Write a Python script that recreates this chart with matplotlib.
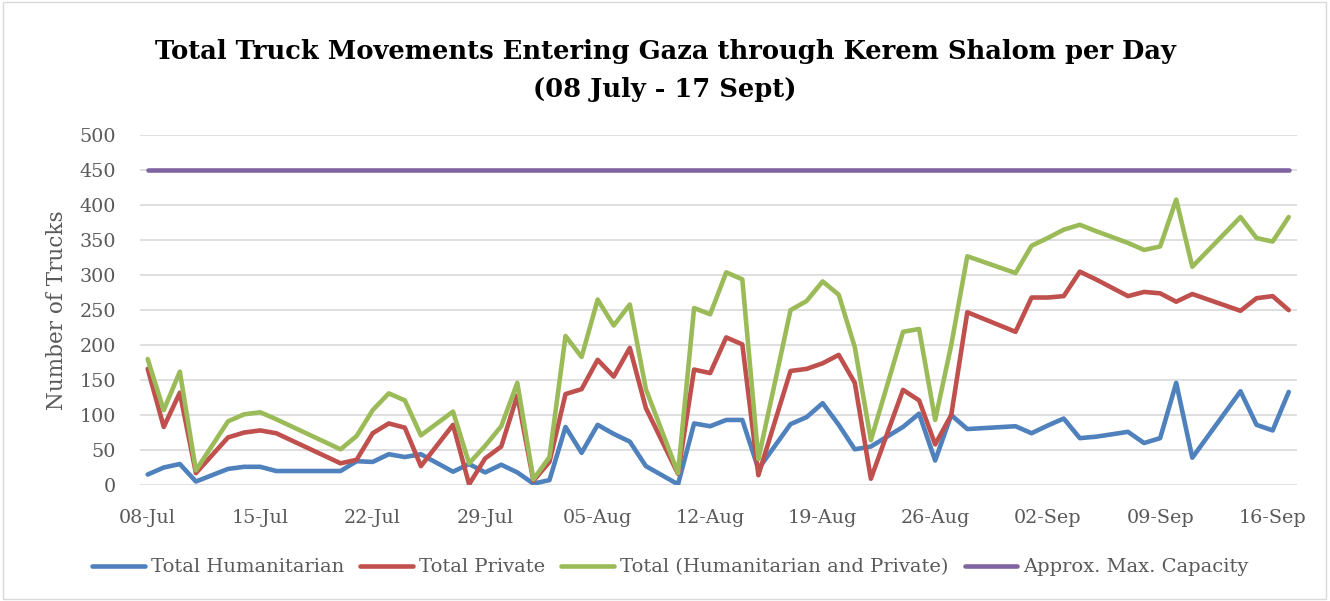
import pandas as pd
import matplotlib
matplotlib.use("Agg")
import matplotlib.pyplot as plt
import matplotlib.dates as mdates
from matplotlib.patches import Rectangle

dates = ["2024-07-08", "2024-07-09", "2024-07-10", "2024-07-11", "2024-07-13", "2024-07-14",
         "2024-07-15", "2024-07-16", "2024-07-20", "2024-07-21", "2024-07-22", "2024-07-23",
         "2024-07-24", "2024-07-25", "2024-07-27", "2024-07-28", "2024-07-29", "2024-07-30",
         "2024-07-31", "2024-08-01", "2024-08-02", "2024-08-03", "2024-08-04", "2024-08-05",
         "2024-08-06", "2024-08-07", "2024-08-08", "2024-08-10", "2024-08-11", "2024-08-12",
         "2024-08-13", "2024-08-14", "2024-08-15", "2024-08-17", "2024-08-18", "2024-08-19",
         "2024-08-20", "2024-08-21", "2024-08-22", "2024-08-24", "2024-08-25", "2024-08-26",
         "2024-08-27", "2024-08-28", "2024-08-31", "2024-09-01", "2024-09-02", "2024-09-03",
         "2024-09-04", "2024-09-05", "2024-09-07", "2024-09-08", "2024-09-09", "2024-09-10",
         "2024-09-11", "2024-09-14", "2024-09-15", "2024-09-16", "2024-09-17"]

humanitarian = [15, 25, 30, 5, 23, 26, 26, 20, 20, 34, 33, 44, 40, 44, 19, 30, 18, 29, 18, 2,
                7, 83, 46, 86, 73, 62, 27, 1, 88, 84, 93, 93, 23, 87, 97, 117, 86, 51, 55,
                83, 102, 35, 100, 80, 84, 74, 85, 95, 67, 69, 76, 60, 67, 146, 39, 134, 86,
                78, 133]

private = [166, 83, 132, 17, 68, 75, 78, 74, 31, 36, 74, 88, 82, 27, 86, 1, 38, 55, 128, 6,
           33, 130, 137, 179, 155, 196, 110, 16, 165, 160, 211, 201, 14, 163, 166, 174, 186,
           146, 9, 136, 121, 58, 100, 247, 219, 268, 268, 270, 305, 294, 270, 276, 274, 262,
           273, 249, 267, 270, 250]

total = [180, 107, 162, 21, 91, 101, 104, 94, 51, 70, 107, 131, 121, 71, 105, 31, 56, 84, 146,
         8, 40, 213, 183, 265, 228, 258, 137, 17, 253, 244, 304, 294, 37, 250, 263, 291, 272,
         197, 64, 219, 223, 93, 200, 327, 303, 342, 353, 365, 372, 363, 346, 336, 341, 408,
         312, 383, 353, 348, 383]

capacity = [450] * len(dates)

labels = ["Total Humanitarian", "Total Private",
          "Total (Humanitarian and Private)", "Approx. Max. Capacity"]
colors = ["#4f81bd", "#c0504d", "#9bbb59", "#8064a2"]

x = pd.to_datetime(dates)
serif = "DejaVu Serif"
grey = "#595959"

fig = plt.figure(figsize=(13.3, 6.01), dpi=100)
ax = fig.add_axes([0.105, 0.193, 0.870, 0.582])

for y, lab, c in zip([humanitarian, private, total, capacity], labels, colors):
    ax.plot(x, y, color=c, lw=3.3, label=lab, solid_capstyle="round", solid_joinstyle="round")

ax.set_ylim(0, 500)
ax.set_yticks(range(0, 501, 50))
ax.set_xlim(x[0] - pd.Timedelta(hours=12), x[-1] + pd.Timedelta(hours=12))
ax.set_xticks(pd.date_range("2024-07-08", "2024-09-16", freq="7D"))
ax.xaxis.set_major_formatter(mdates.DateFormatter("%d-%b"))

ax.grid(axis="y", color="#d9d9d9", lw=1.2)
ax.set_axisbelow(True)
for s in ax.spines.values():
    s.set_visible(False)
ax.tick_params(axis="both", length=0, labelsize=13.8, labelcolor=grey)
ax.tick_params(axis="y", pad=17)
ax.tick_params(axis="x", pad=17)
for t in ax.get_xticklabels() + ax.get_yticklabels():
    t.set_fontfamily(serif)

fig.text(0.043, 0.484, "Number of Trucks", rotation=90, ha="center", va="center",
         fontsize=15.5, color=grey, family=serif)
fig.text(0.5, 1 - 51 / 601, "Total Truck Movements Entering Gaza through Kerem Shalom per Day",
         ha="center", va="center", fontsize=18.5, fontweight="bold", family=serif)
fig.text(0.5, 1 - 89 / 601, "(08 July - 17 Sept)",
         ha="center", va="center", fontsize=18.5, fontweight="bold", family=serif)

fig.legend(loc="center", bbox_to_anchor=(0.504, 0.056), ncol=4, frameon=False,
           prop={"family": serif, "size": 14}, labelcolor=grey, handlelength=2.7,
           handletextpad=0.3, columnspacing=0.85)

fig.add_artist(Rectangle((0.002, 0.003), 0.995, 0.994, transform=fig.transFigure,
                         fill=False, edgecolor="#d9d9d9", lw=1))

fig.savefig("out.png", dpi=100)
